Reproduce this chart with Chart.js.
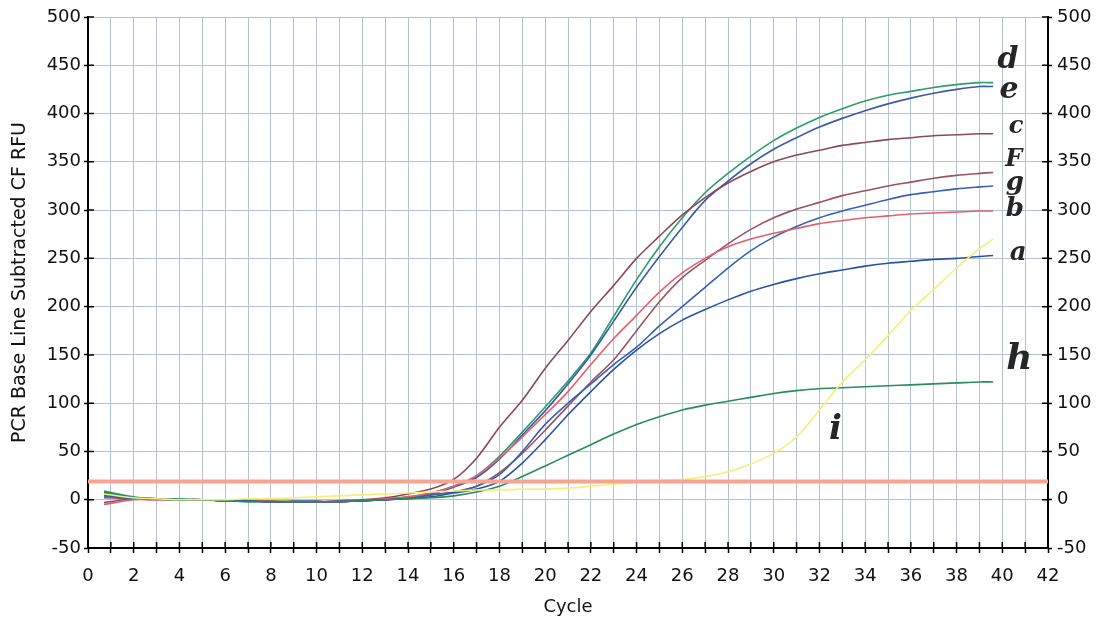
<!DOCTYPE html>
<html>
<head>
<meta charset="utf-8">
<script src="https://cdn.jsdelivr.net/npm/chart.js@4.4.1/dist/chart.umd.min.js"></script>
<style>
  html, body { margin: 0; background: #fff; }
</style>
</head>
<body>
<canvas id="pcr" width="1102" height="628"></canvas>
<script>
// cycle positions of the readings
const cycles = [0.7, 2, 3, 4, 5, 6, 7, 8, 9, 10, 11, 12, 13, 14, 15, 16, 17, 18, 19, 20,
  21, 22, 23, 24, 25, 26, 27, 28, 29, 30, 31, 32, 33, 34, 35, 36, 37, 38, 39, 39.6];

// RFU per well
const wellA = [7, 2, 1, 0, 0, -1, -1, -2, -2, -2, -2, -1, 0, 1, 3, 7, 11, 19, 38, 62,
  88, 112, 135, 155, 172, 186, 197, 207, 216, 223, 229, 234, 238, 242, 245, 247, 249, 250, 252, 253];
const wellB = [-5, 0, 0, 0, 0, -1, -1, -1, -2, -2, -2, -1, 1, 3, 7, 14, 25, 43, 65, 88,
  112, 140, 167, 191, 215, 235, 250, 262, 270, 276, 281, 286, 289, 292, 294, 296, 297, 298, 299, 299];
const wellC = [-3, 1, 1, 0, 0, -1, -1, -2, -2, -2, -1, 0, 2, 6, 11, 21, 43, 75, 103, 136,
  165, 195, 222, 250, 273, 295, 313, 328, 340, 350, 357, 362, 367, 370, 373, 375, 377, 378, 379, 379];
const wellD = [9, 3, 1, 1, 0, -1, -2, -2, -2, -2, -2, -1, 1, 3, 7, 14, 25, 45, 70, 96,
  123, 152, 190, 228, 262, 292, 318, 338, 356, 372, 385, 396, 405, 413, 419, 423, 427, 430, 432, 432];
const wellE = [5, 2, 1, 0, 0, -1, -1, -2, -2, -2, -2, -1, 0, 2, 6, 13, 23, 42, 67, 92,
  120, 150, 185, 220, 252, 282, 310, 330, 348, 363, 375, 386, 395, 403, 410, 416, 421, 425, 428, 428];
const wellF = [2, 1, 0, 0, 0, -1, -1, -2, -2, -2, -2, -1, 0, 2, 5, 8, 14, 28, 48, 72,
  97, 122, 145, 175, 205, 230, 248, 265, 280, 292, 301, 308, 315, 320, 325, 329, 333, 336, 338, 339];
const wellG = [4, 1, 1, 0, 0, -1, -1, -2, -2, -2, -2, -1, 0, 2, 5, 8, 14, 26, 50, 78,
  100, 120, 140, 158, 180, 200, 220, 240, 258, 272, 283, 292, 299, 305, 311, 316, 319, 322, 324, 325];
const wellH = [8, 2, 1, 0, 0, -1, -2, -2, -2, -2, -2, -1, 0, 1, 2, 4, 8, 14, 24, 35,
  46, 57, 68, 78, 86, 93, 98, 102, 106, 110, 113, 115, 116, 117, 118, 119, 120, 121, 122, 122];
const wellI = [6, 2, 1, 0, 0, 0, 1, 1, 2, 3, 4, 5, 6, 7, 8, 9, 10, 10, 11, 11,
  12, 14, 16, 18, 20, 21, 24, 29, 37, 48, 65, 93, 122, 145, 170, 196, 218, 240, 260, 270];

const threshold = 19;

// handwritten notes next to the curves (data coordinates)
const noteText = ['d', 'e', 'c', 'F', 'g', 'b', 'a', 'h', 'i'];
const noteCycle = [40.25, 40.3, 40.6, 40.5, 40.55, 40.55, 40.7, 40.75, 32.7];
const noteValue = [455, 424, 386, 352, 328, 301, 255, 145, 72];
const noteSize = [30, 30, 24, 24, 26, 26, 26, 36, 34];

const toPoints = vals => vals.map((v, i) => ({ x: cycles[i], y: v }));

const wells = [
  { data: wellI, color: '#f3f07a' },
  { data: wellH, color: '#2a8c58' },
  { data: wellA, color: '#2c53a3' },
  { data: wellB, color: '#e0606c' },
  { data: wellG, color: '#3a5fb2' },
  { data: wellF, color: '#9a5363' },
  { data: wellC, color: '#8c4856' },
  { data: wellE, color: '#3d5aa6' },
  { data: wellD, color: '#2e9c6c' },
];

const datasets = wells.map(w => ({
  data: toPoints(w.data),
  borderColor: w.color,
  borderWidth: 1.6,
  pointRadius: 0,
  fill: false,
  tension: 0.3,
  order: 2,
}));

datasets.push({
  data: [{ x: 0, y: threshold }, { x: 42, y: threshold }],
  borderColor: '#f5a592',
  borderWidth: 4,
  pointRadius: 0,
  fill: false,
  order: 1,
});

const FONT = '"DejaVu Sans", Verdana, sans-serif';

// tick marks also poke into the plot, like the instrument software draws them
const innerTicks = {
  id: 'innerTicks',
  afterDraw(chart) {
    const ctx = chart.ctx;
    const { x, y, y2 } = chart.scales;
    ctx.save();
    ctx.strokeStyle = '#000';
    ctx.lineWidth = 1.5;
    ctx.beginPath();
    x.ticks.forEach(t => {
      const px = x.getPixelForValue(t.value);
      ctx.moveTo(px, x.top);
      ctx.lineTo(px, x.top - 6);
    });
    y.ticks.forEach(t => {
      const py = y.getPixelForValue(t.value);
      ctx.moveTo(y.right, py);
      ctx.lineTo(y.right + 6, py);
      ctx.moveTo(y2.left, py);
      ctx.lineTo(y2.left - 6, py);
    });
    ctx.stroke();
    ctx.restore();
  }
};

const notes = {
  id: 'notes',
  afterDraw(chart) {
    const ctx = chart.ctx;
    const { x, y } = chart.scales;
    ctx.save();
    ctx.fillStyle = '#262626';
    ctx.textAlign = 'center';
    ctx.textBaseline = 'middle';
    noteText.forEach((t, i) => {
      ctx.font = 'bold italic ' + noteSize[i] + 'px "DejaVu Serif", serif';
      ctx.fillText(t, x.getPixelForValue(noteCycle[i]), y.getPixelForValue(noteValue[i]));
    });
    ctx.restore();
  }
};

new Chart(document.getElementById('pcr'), {
  type: 'line',
  data: { datasets },
  options: {
    responsive: false,
    animation: false,
    layout: { padding: { top: 17, right: 0, left: 0, bottom: 0 } },
    plugins: { legend: { display: false }, tooltip: { enabled: false } },
    scales: {
      x: {
        type: 'linear',
        min: 0,
        max: 42,
        border: { color: '#000', width: 2 },
        grid: { color: '#b1c3d5', lineWidth: 1, tickColor: '#000', tickLength: 5, tickWidth: 1.5 },
        ticks: {
          stepSize: 1,
          autoSkip: false,
          maxRotation: 0,
          padding: 13,
          color: '#111',
          font: { family: FONT, size: 18 },
          callback: v => (v % 2 === 0 ? v : ''),
        },
        title: {
          display: true,
          text: 'Cycle',
          color: '#111',
          font: { family: FONT, size: 18 },
          padding: { top: 0, bottom: 10 },
        },
        afterFit: s => { s.height = 80; },
      },
      y: {
        position: 'left',
        min: -50,
        max: 500,
        border: { color: '#000', width: 2 },
        grid: { color: '#b1c3d5', lineWidth: 1, tickColor: '#000', tickLength: 4, tickWidth: 1.5 },
        ticks: {
          stepSize: 25,
          padding: 3,
          color: '#111',
          font: { family: FONT, size: 18 },
          callback: v => (v % 50 === 0 ? v : ''),
        },
        title: {
          display: true,
          text: 'PCR Base Line Subtracted CF RFU',
          color: '#111',
          font: { family: FONT, size: 19 },
          padding: { top: 9, bottom: 0 },
        },
        afterFit: s => { s.width = 88; },
      },
      y2: {
        position: 'right',
        min: -50,
        max: 500,
        border: { color: '#000', width: 2 },
        grid: { drawOnChartArea: false, tickColor: '#000', tickLength: 4, tickWidth: 1.5 },
        ticks: {
          stepSize: 25,
          padding: 5,
          color: '#111',
          font: { family: FONT, size: 18 },
          callback: v => (v % 50 === 0 ? v : ''),
        },
        afterFit: s => { s.width = 54; },
      },
    },
  },
  plugins: [innerTicks, notes],
});
</script>
</body>
</html>
